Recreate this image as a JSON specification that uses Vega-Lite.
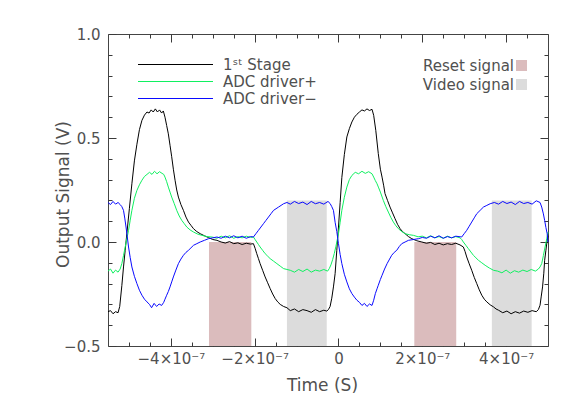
{
  "$schema": "https://vega.github.io/schema/vega-lite/v6.json",
  "width": 440,
  "height": 312,
  "autosize": {"type": "none"},
  "padding": {"left": 108, "top": 34, "right": 33, "bottom": 69},
  "background": "white",
  "config": {
    "view": {"stroke": "#444444", "strokeWidth": 1},
    "font": "DejaVu Sans",
    "axis": {
      "zindex": 1,
      "domain": false,
      "tickColor": "#3a3a3a",
      "tickWidth": 1,
      "labelColor": "#505050",
      "titleColor": "#505050",
      "labelFont": "DejaVu Sans",
      "titleFont": "DejaVu Sans",
      "labelFontSize": 15,
      "titleFontSize": 17,
      "titleFontWeight": "normal",
      "grid": false
    },
    "legend": {
      "labelFont": "DejaVu Sans",
      "labelFontSize": 15,
      "labelColor": "#505050",
      "padding": 0,
      "title": null
    }
  },
  "datasets": {
    "bands": [
      {"t0": -3.09e-7, "t1": -2.08e-7, "v0": -0.5, "v1": 0.0, "band": "Reset signal"},
      {"t0": 1.81e-7, "t1": 2.81e-7, "v0": -0.5, "v1": 0.0, "band": "Reset signal"},
      {"t0": -1.23e-7, "t1": -0.28e-7, "v0": -0.5, "v1": 0.2, "band": "Video signal"},
      {"t0": 3.66e-7, "t1": 4.61e-7, "v0": -0.5, "v1": 0.2, "band": "Video signal"}
    ],
    "signals": [
      {"series": "1ˢᵗ Stage", "t": -5.50e-7, "v": -0.335},
      {"series": "1ˢᵗ Stage", "t": -5.44e-7, "v": -0.33},
      {"series": "1ˢᵗ Stage", "t": -5.38e-7, "v": -0.345},
      {"series": "1ˢᵗ Stage", "t": -5.32e-7, "v": -0.335},
      {"series": "1ˢᵗ Stage", "t": -5.26e-7, "v": -0.34},
      {"series": "1ˢᵗ Stage", "t": -5.22e-7, "v": -0.31},
      {"series": "1ˢᵗ Stage", "t": -5.17e-7, "v": -0.21},
      {"series": "1ˢᵗ Stage", "t": -5.13e-7, "v": -0.12},
      {"series": "1ˢᵗ Stage", "t": -5.09e-7, "v": -0.04},
      {"series": "1ˢᵗ Stage", "t": -5.05e-7, "v": 0.04},
      {"series": "1ˢᵗ Stage", "t": -4.99e-7, "v": 0.16},
      {"series": "1ˢᵗ Stage", "t": -4.93e-7, "v": 0.28},
      {"series": "1ˢᵗ Stage", "t": -4.87e-7, "v": 0.39},
      {"series": "1ˢᵗ Stage", "t": -4.81e-7, "v": 0.47},
      {"series": "1ˢᵗ Stage", "t": -4.75e-7, "v": 0.54},
      {"series": "1ˢᵗ Stage", "t": -4.69e-7, "v": 0.585},
      {"series": "1ˢᵗ Stage", "t": -4.63e-7, "v": 0.61},
      {"series": "1ˢᵗ Stage", "t": -4.57e-7, "v": 0.625},
      {"series": "1ˢᵗ Stage", "t": -4.52e-7, "v": 0.62},
      {"series": "1ˢᵗ Stage", "t": -4.47e-7, "v": 0.635},
      {"series": "1ˢᵗ Stage", "t": -4.42e-7, "v": 0.625},
      {"series": "1ˢᵗ Stage", "t": -4.37e-7, "v": 0.64},
      {"series": "1ˢᵗ Stage", "t": -4.32e-7, "v": 0.625},
      {"series": "1ˢᵗ Stage", "t": -4.27e-7, "v": 0.635},
      {"series": "1ˢᵗ Stage", "t": -4.22e-7, "v": 0.62},
      {"series": "1ˢᵗ Stage", "t": -4.18e-7, "v": 0.63},
      {"series": "1ˢᵗ Stage", "t": -4.14e-7, "v": 0.60},
      {"series": "1ˢᵗ Stage", "t": -4.10e-7, "v": 0.56},
      {"series": "1ˢᵗ Stage", "t": -4.06e-7, "v": 0.52},
      {"series": "1ˢᵗ Stage", "t": -4.02e-7, "v": 0.465},
      {"series": "1ˢᵗ Stage", "t": -3.98e-7, "v": 0.41},
      {"series": "1ˢᵗ Stage", "t": -3.94e-7, "v": 0.35},
      {"series": "1ˢᵗ Stage", "t": -3.90e-7, "v": 0.297},
      {"series": "1ˢᵗ Stage", "t": -3.86e-7, "v": 0.25},
      {"series": "1ˢᵗ Stage", "t": -3.82e-7, "v": 0.216},
      {"series": "1ˢᵗ Stage", "t": -3.76e-7, "v": 0.18},
      {"series": "1ˢᵗ Stage", "t": -3.70e-7, "v": 0.152},
      {"series": "1ˢᵗ Stage", "t": -3.64e-7, "v": 0.12},
      {"series": "1ˢᵗ Stage", "t": -3.58e-7, "v": 0.096},
      {"series": "1ˢᵗ Stage", "t": -3.52e-7, "v": 0.08},
      {"series": "1ˢᵗ Stage", "t": -3.46e-7, "v": 0.064},
      {"series": "1ˢᵗ Stage", "t": -3.38e-7, "v": 0.05},
      {"series": "1ˢᵗ Stage", "t": -3.30e-7, "v": 0.04},
      {"series": "1ˢᵗ Stage", "t": -3.20e-7, "v": 0.03},
      {"series": "1ˢᵗ Stage", "t": -3.10e-7, "v": 0.021},
      {"series": "1ˢᵗ Stage", "t": -3.00e-7, "v": 0.012},
      {"series": "1ˢᵗ Stage", "t": -2.90e-7, "v": 0.008},
      {"series": "1ˢᵗ Stage", "t": -2.80e-7, "v": 0.0},
      {"series": "1ˢᵗ Stage", "t": -2.70e-7, "v": -0.005},
      {"series": "1ˢᵗ Stage", "t": -2.60e-7, "v": 0.002},
      {"series": "1ˢᵗ Stage", "t": -2.50e-7, "v": -0.008},
      {"series": "1ˢᵗ Stage", "t": -2.40e-7, "v": -0.004},
      {"series": "1ˢᵗ Stage", "t": -2.30e-7, "v": -0.012},
      {"series": "1ˢᵗ Stage", "t": -2.20e-7, "v": -0.006},
      {"series": "1ˢᵗ Stage", "t": -2.10e-7, "v": -0.01},
      {"series": "1ˢᵗ Stage", "t": -2.03e-7, "v": -0.008},
      {"series": "1ˢᵗ Stage", "t": -1.99e-7, "v": -0.03},
      {"series": "1ˢᵗ Stage", "t": -1.95e-7, "v": -0.056},
      {"series": "1ˢᵗ Stage", "t": -1.91e-7, "v": -0.08},
      {"series": "1ˢᵗ Stage", "t": -1.87e-7, "v": -0.104},
      {"series": "1ˢᵗ Stage", "t": -1.81e-7, "v": -0.136},
      {"series": "1ˢᵗ Stage", "t": -1.75e-7, "v": -0.168},
      {"series": "1ˢᵗ Stage", "t": -1.69e-7, "v": -0.196},
      {"series": "1ˢᵗ Stage", "t": -1.63e-7, "v": -0.224},
      {"series": "1ˢᵗ Stage", "t": -1.57e-7, "v": -0.25},
      {"series": "1ˢᵗ Stage", "t": -1.51e-7, "v": -0.272},
      {"series": "1ˢᵗ Stage", "t": -1.45e-7, "v": -0.288},
      {"series": "1ˢᵗ Stage", "t": -1.39e-7, "v": -0.30},
      {"series": "1ˢᵗ Stage", "t": -1.31e-7, "v": -0.31},
      {"series": "1ˢᵗ Stage", "t": -1.23e-7, "v": -0.316},
      {"series": "1ˢᵗ Stage", "t": -1.15e-7, "v": -0.33},
      {"series": "1ˢᵗ Stage", "t": -1.05e-7, "v": -0.322},
      {"series": "1ˢᵗ Stage", "t": -0.95e-7, "v": -0.335},
      {"series": "1ˢᵗ Stage", "t": -0.85e-7, "v": -0.325},
      {"series": "1ˢᵗ Stage", "t": -0.75e-7, "v": -0.33},
      {"series": "1ˢᵗ Stage", "t": -0.65e-7, "v": -0.338},
      {"series": "1ˢᵗ Stage", "t": -0.55e-7, "v": -0.325},
      {"series": "1ˢᵗ Stage", "t": -0.45e-7, "v": -0.335},
      {"series": "1ˢᵗ Stage", "t": -0.35e-7, "v": -0.328},
      {"series": "1ˢᵗ Stage", "t": -0.28e-7, "v": -0.332},
      {"series": "1ˢᵗ Stage", "t": -0.24e-7, "v": -0.325},
      {"series": "1ˢᵗ Stage", "t": -0.20e-7, "v": -0.31},
      {"series": "1ˢᵗ Stage", "t": -0.16e-7, "v": -0.27},
      {"series": "1ˢᵗ Stage", "t": -0.12e-7, "v": -0.216},
      {"series": "1ˢᵗ Stage", "t": -0.08e-7, "v": -0.152},
      {"series": "1ˢᵗ Stage", "t": -0.04e-7, "v": -0.04},
      {"series": "1ˢᵗ Stage", "t": 0, "v": 0.072},
      {"series": "1ˢᵗ Stage", "t": 0.04e-7, "v": 0.19},
      {"series": "1ˢᵗ Stage", "t": 0.08e-7, "v": 0.31},
      {"series": "1ˢᵗ Stage", "t": 0.14e-7, "v": 0.42},
      {"series": "1ˢᵗ Stage", "t": 0.20e-7, "v": 0.505},
      {"series": "1ˢᵗ Stage", "t": 0.26e-7, "v": 0.545},
      {"series": "1ˢᵗ Stage", "t": 0.32e-7, "v": 0.577},
      {"series": "1ˢᵗ Stage", "t": 0.38e-7, "v": 0.60},
      {"series": "1ˢᵗ Stage", "t": 0.44e-7, "v": 0.614},
      {"series": "1ˢᵗ Stage", "t": 0.50e-7, "v": 0.625},
      {"series": "1ˢᵗ Stage", "t": 0.56e-7, "v": 0.635},
      {"series": "1ˢᵗ Stage", "t": 0.62e-7, "v": 0.63},
      {"series": "1ˢᵗ Stage", "t": 0.68e-7, "v": 0.64},
      {"series": "1ˢᵗ Stage", "t": 0.74e-7, "v": 0.632},
      {"series": "1ˢᵗ Stage", "t": 0.80e-7, "v": 0.638},
      {"series": "1ˢᵗ Stage", "t": 0.84e-7, "v": 0.609},
      {"series": "1ˢᵗ Stage", "t": 0.89e-7, "v": 0.537},
      {"series": "1ˢᵗ Stage", "t": 0.95e-7, "v": 0.425},
      {"series": "1ˢᵗ Stage", "t": 1.00e-7, "v": 0.35},
      {"series": "1ˢᵗ Stage", "t": 1.04e-7, "v": 0.312},
      {"series": "1ˢᵗ Stage", "t": 1.08e-7, "v": 0.27},
      {"series": "1ˢᵗ Stage", "t": 1.11e-7, "v": 0.233},
      {"series": "1ˢᵗ Stage", "t": 1.17e-7, "v": 0.20},
      {"series": "1ˢᵗ Stage", "t": 1.23e-7, "v": 0.168},
      {"series": "1ˢᵗ Stage", "t": 1.29e-7, "v": 0.14},
      {"series": "1ˢᵗ Stage", "t": 1.35e-7, "v": 0.112},
      {"series": "1ˢᵗ Stage", "t": 1.41e-7, "v": 0.085},
      {"series": "1ˢᵗ Stage", "t": 1.47e-7, "v": 0.064},
      {"series": "1ˢᵗ Stage", "t": 1.53e-7, "v": 0.05},
      {"series": "1ˢᵗ Stage", "t": 1.59e-7, "v": 0.04},
      {"series": "1ˢᵗ Stage", "t": 1.67e-7, "v": 0.026},
      {"series": "1ˢᵗ Stage", "t": 1.75e-7, "v": 0.016},
      {"series": "1ˢᵗ Stage", "t": 1.87e-7, "v": 0.006},
      {"series": "1ˢᵗ Stage", "t": 1.99e-7, "v": 0.0},
      {"series": "1ˢᵗ Stage", "t": 2.10e-7, "v": -0.006},
      {"series": "1ˢᵗ Stage", "t": 2.20e-7, "v": -0.002},
      {"series": "1ˢᵗ Stage", "t": 2.30e-7, "v": -0.012},
      {"series": "1ˢᵗ Stage", "t": 2.40e-7, "v": -0.006},
      {"series": "1ˢᵗ Stage", "t": 2.50e-7, "v": -0.014},
      {"series": "1ˢᵗ Stage", "t": 2.60e-7, "v": -0.008},
      {"series": "1ˢᵗ Stage", "t": 2.70e-7, "v": -0.012},
      {"series": "1ˢᵗ Stage", "t": 2.80e-7, "v": -0.006},
      {"series": "1ˢᵗ Stage", "t": 2.90e-7, "v": -0.014},
      {"series": "1ˢᵗ Stage", "t": 2.98e-7, "v": -0.024},
      {"series": "1ˢᵗ Stage", "t": 3.02e-7, "v": -0.045},
      {"series": "1ˢᵗ Stage", "t": 3.06e-7, "v": -0.072},
      {"series": "1ˢᵗ Stage", "t": 3.12e-7, "v": -0.105},
      {"series": "1ˢᵗ Stage", "t": 3.18e-7, "v": -0.136},
      {"series": "1ˢᵗ Stage", "t": 3.24e-7, "v": -0.17},
      {"series": "1ˢᵗ Stage", "t": 3.30e-7, "v": -0.20},
      {"series": "1ˢᵗ Stage", "t": 3.36e-7, "v": -0.23},
      {"series": "1ˢᵗ Stage", "t": 3.42e-7, "v": -0.256},
      {"series": "1ˢᵗ Stage", "t": 3.48e-7, "v": -0.275},
      {"series": "1ˢᵗ Stage", "t": 3.54e-7, "v": -0.288},
      {"series": "1ˢᵗ Stage", "t": 3.62e-7, "v": -0.302},
      {"series": "1ˢᵗ Stage", "t": 3.70e-7, "v": -0.312},
      {"series": "1ˢᵗ Stage", "t": 3.76e-7, "v": -0.322},
      {"series": "1ˢᵗ Stage", "t": 3.82e-7, "v": -0.328},
      {"series": "1ˢᵗ Stage", "t": 3.92e-7, "v": -0.34},
      {"series": "1ˢᵗ Stage", "t": 4.02e-7, "v": -0.332},
      {"series": "1ˢᵗ Stage", "t": 4.12e-7, "v": -0.345},
      {"series": "1ˢᵗ Stage", "t": 4.22e-7, "v": -0.335},
      {"series": "1ˢᵗ Stage", "t": 4.32e-7, "v": -0.342},
      {"series": "1ˢᵗ Stage", "t": 4.42e-7, "v": -0.332},
      {"series": "1ˢᵗ Stage", "t": 4.52e-7, "v": -0.338},
      {"series": "1ˢᵗ Stage", "t": 4.62e-7, "v": -0.33},
      {"series": "1ˢᵗ Stage", "t": 4.72e-7, "v": -0.335},
      {"series": "1ˢᵗ Stage", "t": 4.77e-7, "v": -0.325},
      {"series": "1ˢᵗ Stage", "t": 4.81e-7, "v": -0.304},
      {"series": "1ˢᵗ Stage", "t": 4.84e-7, "v": -0.26},
      {"series": "1ˢᵗ Stage", "t": 4.87e-7, "v": -0.216},
      {"series": "1ˢᵗ Stage", "t": 4.90e-7, "v": -0.15},
      {"series": "1ˢᵗ Stage", "t": 4.92e-7, "v": -0.088},
      {"series": "1ˢᵗ Stage", "t": 4.95e-7, "v": -0.04},
      {"series": "1ˢᵗ Stage", "t": 4.98e-7, "v": 0.008},
      {"series": "1ˢᵗ Stage", "t": 5.00e-7, "v": 0.03},

      {"series": "ADC driver+", "t": -5.50e-7, "v": -0.14},
      {"series": "ADC driver+", "t": -5.44e-7, "v": -0.13},
      {"series": "ADC driver+", "t": -5.38e-7, "v": -0.15},
      {"series": "ADC driver+", "t": -5.32e-7, "v": -0.135},
      {"series": "ADC driver+", "t": -5.26e-7, "v": -0.145},
      {"series": "ADC driver+", "t": -5.21e-7, "v": -0.13},
      {"series": "ADC driver+", "t": -5.17e-7, "v": -0.104},
      {"series": "ADC driver+", "t": -5.13e-7, "v": -0.065},
      {"series": "ADC driver+", "t": -5.09e-7, "v": -0.024},
      {"series": "ADC driver+", "t": -5.05e-7, "v": 0.015},
      {"series": "ADC driver+", "t": -5.01e-7, "v": 0.056},
      {"series": "ADC driver+", "t": -4.97e-7, "v": 0.105},
      {"series": "ADC driver+", "t": -4.93e-7, "v": 0.152},
      {"series": "ADC driver+", "t": -4.87e-7, "v": 0.21},
      {"series": "ADC driver+", "t": -4.81e-7, "v": 0.248},
      {"series": "ADC driver+", "t": -4.75e-7, "v": 0.275},
      {"series": "ADC driver+", "t": -4.69e-7, "v": 0.297},
      {"series": "ADC driver+", "t": -4.63e-7, "v": 0.315},
      {"series": "ADC driver+", "t": -4.57e-7, "v": 0.325},
      {"series": "ADC driver+", "t": -4.51e-7, "v": 0.335},
      {"series": "ADC driver+", "t": -4.45e-7, "v": 0.325},
      {"series": "ADC driver+", "t": -4.39e-7, "v": 0.34},
      {"series": "ADC driver+", "t": -4.33e-7, "v": 0.328},
      {"series": "ADC driver+", "t": -4.27e-7, "v": 0.338},
      {"series": "ADC driver+", "t": -4.21e-7, "v": 0.33},
      {"series": "ADC driver+", "t": -4.17e-7, "v": 0.325},
      {"series": "ADC driver+", "t": -4.14e-7, "v": 0.312},
      {"series": "ADC driver+", "t": -4.10e-7, "v": 0.29},
      {"series": "ADC driver+", "t": -4.06e-7, "v": 0.264},
      {"series": "ADC driver+", "t": -4.02e-7, "v": 0.24},
      {"series": "ADC driver+", "t": -3.98e-7, "v": 0.216},
      {"series": "ADC driver+", "t": -3.92e-7, "v": 0.185},
      {"series": "ADC driver+", "t": -3.86e-7, "v": 0.152},
      {"series": "ADC driver+", "t": -3.80e-7, "v": 0.125},
      {"series": "ADC driver+", "t": -3.74e-7, "v": 0.104},
      {"series": "ADC driver+", "t": -3.68e-7, "v": 0.088},
      {"series": "ADC driver+", "t": -3.62e-7, "v": 0.072},
      {"series": "ADC driver+", "t": -3.54e-7, "v": 0.058},
      {"series": "ADC driver+", "t": -3.46e-7, "v": 0.048},
      {"series": "ADC driver+", "t": -3.36e-7, "v": 0.038},
      {"series": "ADC driver+", "t": -3.26e-7, "v": 0.032},
      {"series": "ADC driver+", "t": -3.14e-7, "v": 0.026},
      {"series": "ADC driver+", "t": -3.02e-7, "v": 0.024},
      {"series": "ADC driver+", "t": -2.90e-7, "v": 0.018},
      {"series": "ADC driver+", "t": -2.80e-7, "v": 0.028},
      {"series": "ADC driver+", "t": -2.70e-7, "v": 0.02},
      {"series": "ADC driver+", "t": -2.60e-7, "v": 0.03},
      {"series": "ADC driver+", "t": -2.50e-7, "v": 0.018},
      {"series": "ADC driver+", "t": -2.40e-7, "v": 0.026},
      {"series": "ADC driver+", "t": -2.30e-7, "v": 0.02},
      {"series": "ADC driver+", "t": -2.20e-7, "v": 0.028},
      {"series": "ADC driver+", "t": -2.10e-7, "v": 0.022},
      {"series": "ADC driver+", "t": -2.03e-7, "v": 0.024},
      {"series": "ADC driver+", "t": -1.99e-7, "v": 0.012},
      {"series": "ADC driver+", "t": -1.95e-7, "v": 0.0},
      {"series": "ADC driver+", "t": -1.91e-7, "v": -0.012},
      {"series": "ADC driver+", "t": -1.87e-7, "v": -0.024},
      {"series": "ADC driver+", "t": -1.81e-7, "v": -0.04},
      {"series": "ADC driver+", "t": -1.75e-7, "v": -0.056},
      {"series": "ADC driver+", "t": -1.69e-7, "v": -0.068},
      {"series": "ADC driver+", "t": -1.63e-7, "v": -0.08},
      {"series": "ADC driver+", "t": -1.55e-7, "v": -0.092},
      {"series": "ADC driver+", "t": -1.47e-7, "v": -0.104},
      {"series": "ADC driver+", "t": -1.39e-7, "v": -0.116},
      {"series": "ADC driver+", "t": -1.31e-7, "v": -0.128},
      {"series": "ADC driver+", "t": -1.23e-7, "v": -0.132},
      {"series": "ADC driver+", "t": -1.15e-7, "v": -0.136},
      {"series": "ADC driver+", "t": -1.05e-7, "v": -0.145},
      {"series": "ADC driver+", "t": -0.95e-7, "v": -0.132},
      {"series": "ADC driver+", "t": -0.85e-7, "v": -0.142},
      {"series": "ADC driver+", "t": -0.75e-7, "v": -0.13},
      {"series": "ADC driver+", "t": -0.65e-7, "v": -0.145},
      {"series": "ADC driver+", "t": -0.55e-7, "v": -0.135},
      {"series": "ADC driver+", "t": -0.45e-7, "v": -0.14},
      {"series": "ADC driver+", "t": -0.35e-7, "v": -0.132},
      {"series": "ADC driver+", "t": -0.26e-7, "v": -0.14},
      {"series": "ADC driver+", "t": -0.22e-7, "v": -0.128},
      {"series": "ADC driver+", "t": -0.18e-7, "v": -0.11},
      {"series": "ADC driver+", "t": -0.14e-7, "v": -0.085},
      {"series": "ADC driver+", "t": -0.10e-7, "v": -0.055},
      {"series": "ADC driver+", "t": -0.06e-7, "v": -0.02},
      {"series": "ADC driver+", "t": 0, "v": 0.04},
      {"series": "ADC driver+", "t": 0.04e-7, "v": 0.095},
      {"series": "ADC driver+", "t": 0.08e-7, "v": 0.152},
      {"series": "ADC driver+", "t": 0.14e-7, "v": 0.215},
      {"series": "ADC driver+", "t": 0.20e-7, "v": 0.264},
      {"series": "ADC driver+", "t": 0.26e-7, "v": 0.30},
      {"series": "ADC driver+", "t": 0.32e-7, "v": 0.32},
      {"series": "ADC driver+", "t": 0.40e-7, "v": 0.335},
      {"series": "ADC driver+", "t": 0.48e-7, "v": 0.328},
      {"series": "ADC driver+", "t": 0.56e-7, "v": 0.34},
      {"series": "ADC driver+", "t": 0.64e-7, "v": 0.33},
      {"series": "ADC driver+", "t": 0.72e-7, "v": 0.338},
      {"series": "ADC driver+", "t": 0.80e-7, "v": 0.328},
      {"series": "ADC driver+", "t": 0.84e-7, "v": 0.312},
      {"series": "ADC driver+", "t": 0.88e-7, "v": 0.295},
      {"series": "ADC driver+", "t": 0.92e-7, "v": 0.28},
      {"series": "ADC driver+", "t": 0.96e-7, "v": 0.26},
      {"series": "ADC driver+", "t": 1.00e-7, "v": 0.24},
      {"series": "ADC driver+", "t": 1.07e-7, "v": 0.20},
      {"series": "ADC driver+", "t": 1.13e-7, "v": 0.17},
      {"series": "ADC driver+", "t": 1.19e-7, "v": 0.144},
      {"series": "ADC driver+", "t": 1.25e-7, "v": 0.118},
      {"series": "ADC driver+", "t": 1.31e-7, "v": 0.096},
      {"series": "ADC driver+", "t": 1.37e-7, "v": 0.078},
      {"series": "ADC driver+", "t": 1.43e-7, "v": 0.064},
      {"series": "ADC driver+", "t": 1.51e-7, "v": 0.05},
      {"series": "ADC driver+", "t": 1.59e-7, "v": 0.04},
      {"series": "ADC driver+", "t": 1.69e-7, "v": 0.035},
      {"series": "ADC driver+", "t": 1.79e-7, "v": 0.032},
      {"series": "ADC driver+", "t": 1.90e-7, "v": 0.025},
      {"series": "ADC driver+", "t": 2.00e-7, "v": 0.028},
      {"series": "ADC driver+", "t": 2.10e-7, "v": 0.02},
      {"series": "ADC driver+", "t": 2.20e-7, "v": 0.03},
      {"series": "ADC driver+", "t": 2.30e-7, "v": 0.02},
      {"series": "ADC driver+", "t": 2.40e-7, "v": 0.026},
      {"series": "ADC driver+", "t": 2.50e-7, "v": 0.018},
      {"series": "ADC driver+", "t": 2.60e-7, "v": 0.028},
      {"series": "ADC driver+", "t": 2.70e-7, "v": 0.02},
      {"series": "ADC driver+", "t": 2.80e-7, "v": 0.026},
      {"series": "ADC driver+", "t": 2.90e-7, "v": 0.02},
      {"series": "ADC driver+", "t": 2.94e-7, "v": 0.012},
      {"series": "ADC driver+", "t": 2.98e-7, "v": 0.0},
      {"series": "ADC driver+", "t": 3.04e-7, "v": -0.016},
      {"series": "ADC driver+", "t": 3.10e-7, "v": -0.032},
      {"series": "ADC driver+", "t": 3.16e-7, "v": -0.048},
      {"series": "ADC driver+", "t": 3.22e-7, "v": -0.064},
      {"series": "ADC driver+", "t": 3.28e-7, "v": -0.076},
      {"series": "ADC driver+", "t": 3.34e-7, "v": -0.088},
      {"series": "ADC driver+", "t": 3.42e-7, "v": -0.1},
      {"series": "ADC driver+", "t": 3.50e-7, "v": -0.112},
      {"series": "ADC driver+", "t": 3.60e-7, "v": -0.125},
      {"series": "ADC driver+", "t": 3.70e-7, "v": -0.136},
      {"series": "ADC driver+", "t": 3.80e-7, "v": -0.14},
      {"series": "ADC driver+", "t": 3.90e-7, "v": -0.148},
      {"series": "ADC driver+", "t": 4.00e-7, "v": -0.135},
      {"series": "ADC driver+", "t": 4.10e-7, "v": -0.15},
      {"series": "ADC driver+", "t": 4.20e-7, "v": -0.138},
      {"series": "ADC driver+", "t": 4.30e-7, "v": -0.145},
      {"series": "ADC driver+", "t": 4.40e-7, "v": -0.135},
      {"series": "ADC driver+", "t": 4.50e-7, "v": -0.142},
      {"series": "ADC driver+", "t": 4.60e-7, "v": -0.132},
      {"series": "ADC driver+", "t": 4.70e-7, "v": -0.14},
      {"series": "ADC driver+", "t": 4.77e-7, "v": -0.13},
      {"series": "ADC driver+", "t": 4.81e-7, "v": -0.12},
      {"series": "ADC driver+", "t": 4.85e-7, "v": -0.104},
      {"series": "ADC driver+", "t": 4.89e-7, "v": -0.065},
      {"series": "ADC driver+", "t": 4.93e-7, "v": -0.024},
      {"series": "ADC driver+", "t": 4.97e-7, "v": 0.015},
      {"series": "ADC driver+", "t": 5.00e-7, "v": 0.048},

      {"series": "ADC driver−", "t": -5.50e-7, "v": 0.19},
      {"series": "ADC driver−", "t": -5.44e-7, "v": 0.18},
      {"series": "ADC driver−", "t": -5.38e-7, "v": 0.195},
      {"series": "ADC driver−", "t": -5.32e-7, "v": 0.182},
      {"series": "ADC driver−", "t": -5.26e-7, "v": 0.19},
      {"series": "ADC driver−", "t": -5.21e-7, "v": 0.18},
      {"series": "ADC driver−", "t": -5.17e-7, "v": 0.17},
      {"series": "ADC driver−", "t": -5.13e-7, "v": 0.152},
      {"series": "ADC driver−", "t": -5.10e-7, "v": 0.115},
      {"series": "ADC driver−", "t": -5.07e-7, "v": 0.072},
      {"series": "ADC driver−", "t": -5.04e-7, "v": 0.025},
      {"series": "ADC driver−", "t": -5.01e-7, "v": -0.024},
      {"series": "ADC driver−", "t": -4.97e-7, "v": -0.075},
      {"series": "ADC driver−", "t": -4.93e-7, "v": -0.12},
      {"series": "ADC driver−", "t": -4.87e-7, "v": -0.165},
      {"series": "ADC driver−", "t": -4.81e-7, "v": -0.2},
      {"series": "ADC driver−", "t": -4.75e-7, "v": -0.232},
      {"series": "ADC driver−", "t": -4.69e-7, "v": -0.256},
      {"series": "ADC driver−", "t": -4.63e-7, "v": -0.275},
      {"series": "ADC driver−", "t": -4.57e-7, "v": -0.288},
      {"series": "ADC driver−", "t": -4.51e-7, "v": -0.30},
      {"series": "ADC driver−", "t": -4.46e-7, "v": -0.316},
      {"series": "ADC driver−", "t": -4.40e-7, "v": -0.295},
      {"series": "ADC driver−", "t": -4.34e-7, "v": -0.31},
      {"series": "ADC driver−", "t": -4.28e-7, "v": -0.298},
      {"series": "ADC driver−", "t": -4.22e-7, "v": -0.305},
      {"series": "ADC driver−", "t": -4.17e-7, "v": -0.29},
      {"series": "ADC driver−", "t": -4.14e-7, "v": -0.275},
      {"series": "ADC driver−", "t": -4.10e-7, "v": -0.256},
      {"series": "ADC driver−", "t": -4.06e-7, "v": -0.238},
      {"series": "ADC driver−", "t": -4.02e-7, "v": -0.216},
      {"series": "ADC driver−", "t": -3.98e-7, "v": -0.192},
      {"series": "ADC driver−", "t": -3.94e-7, "v": -0.168},
      {"series": "ADC driver−", "t": -3.88e-7, "v": -0.135},
      {"series": "ADC driver−", "t": -3.82e-7, "v": -0.104},
      {"series": "ADC driver−", "t": -3.76e-7, "v": -0.082},
      {"series": "ADC driver−", "t": -3.70e-7, "v": -0.064},
      {"series": "ADC driver−", "t": -3.64e-7, "v": -0.05},
      {"series": "ADC driver−", "t": -3.58e-7, "v": -0.04},
      {"series": "ADC driver−", "t": -3.52e-7, "v": -0.028},
      {"series": "ADC driver−", "t": -3.46e-7, "v": -0.016},
      {"series": "ADC driver−", "t": -3.38e-7, "v": -0.008},
      {"series": "ADC driver−", "t": -3.30e-7, "v": 0.0},
      {"series": "ADC driver−", "t": -3.20e-7, "v": 0.008},
      {"series": "ADC driver−", "t": -3.10e-7, "v": 0.016},
      {"series": "ADC driver−", "t": -3.00e-7, "v": 0.02},
      {"series": "ADC driver−", "t": -2.90e-7, "v": 0.024},
      {"series": "ADC driver−", "t": -2.80e-7, "v": 0.018},
      {"series": "ADC driver−", "t": -2.70e-7, "v": 0.028},
      {"series": "ADC driver−", "t": -2.60e-7, "v": 0.02},
      {"series": "ADC driver−", "t": -2.50e-7, "v": 0.03},
      {"series": "ADC driver−", "t": -2.40e-7, "v": 0.02},
      {"series": "ADC driver−", "t": -2.30e-7, "v": 0.028},
      {"series": "ADC driver−", "t": -2.20e-7, "v": 0.018},
      {"series": "ADC driver−", "t": -2.10e-7, "v": 0.026},
      {"series": "ADC driver−", "t": -2.03e-7, "v": 0.024},
      {"series": "ADC driver−", "t": -1.97e-7, "v": 0.04},
      {"series": "ADC driver−", "t": -1.91e-7, "v": 0.056},
      {"series": "ADC driver−", "t": -1.85e-7, "v": 0.072},
      {"series": "ADC driver−", "t": -1.79e-7, "v": 0.088},
      {"series": "ADC driver−", "t": -1.73e-7, "v": 0.104},
      {"series": "ADC driver−", "t": -1.67e-7, "v": 0.12},
      {"series": "ADC driver−", "t": -1.61e-7, "v": 0.136},
      {"series": "ADC driver−", "t": -1.55e-7, "v": 0.152},
      {"series": "ADC driver−", "t": -1.49e-7, "v": 0.16},
      {"series": "ADC driver−", "t": -1.43e-7, "v": 0.168},
      {"series": "ADC driver−", "t": -1.37e-7, "v": 0.176},
      {"series": "ADC driver−", "t": -1.31e-7, "v": 0.184},
      {"series": "ADC driver−", "t": -1.23e-7, "v": 0.19},
      {"series": "ADC driver−", "t": -1.15e-7, "v": 0.182},
      {"series": "ADC driver−", "t": -1.05e-7, "v": 0.195},
      {"series": "ADC driver−", "t": -0.95e-7, "v": 0.185},
      {"series": "ADC driver−", "t": -0.85e-7, "v": 0.192},
      {"series": "ADC driver−", "t": -0.75e-7, "v": 0.18},
      {"series": "ADC driver−", "t": -0.65e-7, "v": 0.195},
      {"series": "ADC driver−", "t": -0.55e-7, "v": 0.184},
      {"series": "ADC driver−", "t": -0.45e-7, "v": 0.19},
      {"series": "ADC driver−", "t": -0.35e-7, "v": 0.182},
      {"series": "ADC driver−", "t": -0.25e-7, "v": 0.195},
      {"series": "ADC driver−", "t": -0.20e-7, "v": 0.185},
      {"series": "ADC driver−", "t": -0.16e-7, "v": 0.17},
      {"series": "ADC driver−", "t": -0.12e-7, "v": 0.152},
      {"series": "ADC driver−", "t": -0.08e-7, "v": 0.095},
      {"series": "ADC driver−", "t": -0.04e-7, "v": 0.05},
      {"series": "ADC driver−", "t": 0, "v": -0.008},
      {"series": "ADC driver−", "t": 0.04e-7, "v": -0.06},
      {"series": "ADC driver−", "t": 0.08e-7, "v": -0.104},
      {"series": "ADC driver−", "t": 0.14e-7, "v": -0.155},
      {"series": "ADC driver−", "t": 0.20e-7, "v": -0.192},
      {"series": "ADC driver−", "t": 0.26e-7, "v": -0.225},
      {"series": "ADC driver−", "t": 0.32e-7, "v": -0.248},
      {"series": "ADC driver−", "t": 0.38e-7, "v": -0.265},
      {"series": "ADC driver−", "t": 0.44e-7, "v": -0.28},
      {"series": "ADC driver−", "t": 0.50e-7, "v": -0.29},
      {"series": "ADC driver−", "t": 0.56e-7, "v": -0.305},
      {"series": "ADC driver−", "t": 0.62e-7, "v": -0.295},
      {"series": "ADC driver−", "t": 0.68e-7, "v": -0.31},
      {"series": "ADC driver−", "t": 0.74e-7, "v": -0.298},
      {"series": "ADC driver−", "t": 0.80e-7, "v": -0.305},
      {"series": "ADC driver−", "t": 0.84e-7, "v": -0.28},
      {"series": "ADC driver−", "t": 0.88e-7, "v": -0.248},
      {"series": "ADC driver−", "t": 0.92e-7, "v": -0.225},
      {"series": "ADC driver−", "t": 0.95e-7, "v": -0.208},
      {"series": "ADC driver−", "t": 1.00e-7, "v": -0.18},
      {"series": "ADC driver−", "t": 1.04e-7, "v": -0.16},
      {"series": "ADC driver−", "t": 1.10e-7, "v": -0.13},
      {"series": "ADC driver−", "t": 1.16e-7, "v": -0.104},
      {"series": "ADC driver−", "t": 1.22e-7, "v": -0.082},
      {"series": "ADC driver−", "t": 1.27e-7, "v": -0.064},
      {"series": "ADC driver−", "t": 1.33e-7, "v": -0.05},
      {"series": "ADC driver−", "t": 1.39e-7, "v": -0.04},
      {"series": "ADC driver−", "t": 1.45e-7, "v": -0.022},
      {"series": "ADC driver−", "t": 1.51e-7, "v": -0.008},
      {"series": "ADC driver−", "t": 1.59e-7, "v": 0.0},
      {"series": "ADC driver−", "t": 1.67e-7, "v": 0.008},
      {"series": "ADC driver−", "t": 1.79e-7, "v": 0.012},
      {"series": "ADC driver−", "t": 1.91e-7, "v": 0.016},
      {"series": "ADC driver−", "t": 2.00e-7, "v": 0.022},
      {"series": "ADC driver−", "t": 2.10e-7, "v": 0.018},
      {"series": "ADC driver−", "t": 2.20e-7, "v": 0.028},
      {"series": "ADC driver−", "t": 2.30e-7, "v": 0.02},
      {"series": "ADC driver−", "t": 2.40e-7, "v": 0.03},
      {"series": "ADC driver−", "t": 2.50e-7, "v": 0.018},
      {"series": "ADC driver−", "t": 2.60e-7, "v": 0.026},
      {"series": "ADC driver−", "t": 2.70e-7, "v": 0.02},
      {"series": "ADC driver−", "t": 2.80e-7, "v": 0.028},
      {"series": "ADC driver−", "t": 2.94e-7, "v": 0.024},
      {"series": "ADC driver−", "t": 3.00e-7, "v": 0.04},
      {"series": "ADC driver−", "t": 3.06e-7, "v": 0.056},
      {"series": "ADC driver−", "t": 3.12e-7, "v": 0.076},
      {"series": "ADC driver−", "t": 3.18e-7, "v": 0.096},
      {"series": "ADC driver−", "t": 3.24e-7, "v": 0.116},
      {"series": "ADC driver−", "t": 3.30e-7, "v": 0.136},
      {"series": "ADC driver−", "t": 3.38e-7, "v": 0.152},
      {"series": "ADC driver−", "t": 3.46e-7, "v": 0.168},
      {"series": "ADC driver−", "t": 3.54e-7, "v": 0.176},
      {"series": "ADC driver−", "t": 3.62e-7, "v": 0.184},
      {"series": "ADC driver−", "t": 3.72e-7, "v": 0.19},
      {"series": "ADC driver−", "t": 3.82e-7, "v": 0.182},
      {"series": "ADC driver−", "t": 3.92e-7, "v": 0.195},
      {"series": "ADC driver−", "t": 4.02e-7, "v": 0.185},
      {"series": "ADC driver−", "t": 4.12e-7, "v": 0.192},
      {"series": "ADC driver−", "t": 4.22e-7, "v": 0.18},
      {"series": "ADC driver−", "t": 4.32e-7, "v": 0.195},
      {"series": "ADC driver−", "t": 4.42e-7, "v": 0.185},
      {"series": "ADC driver−", "t": 4.52e-7, "v": 0.19},
      {"series": "ADC driver−", "t": 4.62e-7, "v": 0.182},
      {"series": "ADC driver−", "t": 4.72e-7, "v": 0.198},
      {"series": "ADC driver−", "t": 4.81e-7, "v": 0.19},
      {"series": "ADC driver−", "t": 4.85e-7, "v": 0.168},
      {"series": "ADC driver−", "t": 4.89e-7, "v": 0.135},
      {"series": "ADC driver−", "t": 4.92e-7, "v": 0.104},
      {"series": "ADC driver−", "t": 4.95e-7, "v": 0.07},
      {"series": "ADC driver−", "t": 4.98e-7, "v": 0.04},
      {"series": "ADC driver−", "t": 5.00e-7, "v": 0.0}
    ]
  },
  "resolve": {"axis": {"x": "independent", "y": "independent"}},
  "layer": [
    {
      "data": {"name": "bands"},
      "mark": {"type": "rect", "opacity": 1},
      "encoding": {
        "x": {
          "field": "t0", "type": "quantitative",
          "scale": {"domain": [-5.5e-7, 5.0e-7], "nice": false, "zero": false},
          "axis": {
            "orient": "bottom",
            "offset": -8,
            "title": "Time (S)",
            "titleY": 47,
            "titleX": 214,
            "titleBaseline": "middle",
            "values": [-4e-7, -2e-7, 0, 2e-7, 4e-7],
            "labelExpr": "datum.value === 0 ? '0' : (datum.value < 0 ? '−' : '') + abs(round(datum.value*1e7)) + '×10⁻⁷'",
            "tickSize": 8,
            "labelPadding": 12,
            "labelBaseline": "middle"
          }
        },
        "x2": {"field": "t1"},
        "y": {
          "field": "v0", "type": "quantitative",
          "scale": {"domain": [-0.5, 1.0], "nice": false, "zero": false},
          "axis": {
            "orient": "left",
            "offset": -8,
            "title": "Output Signal (V)",
            "titleX": -53,
            "titleY": 160,
            "titleAngle": -90,
            "titleBaseline": "middle",
            "titleAlign": "center",
            "values": [-0.5, 0, 0.5, 1.0],
            "format": ".1f",
            "tickSize": 8,
            "labelPadding": 8
          }
        },
        "y2": {"field": "v1"},
        "fill": {
          "field": "band", "type": "nominal",
          "scale": {"domain": ["Reset signal", "Video signal"], "range": ["#dbbcbd", "#dcdcdc"]},
          "legend": {
            "orient": "none",
            "legendX": 406,
            "legendY": 24,
            "symbolType": "square",
            "symbolSize": 121,
            "symbolOpacity": 1,
            "symbolStrokeWidth": 0,
            "labelAlign": "right",
            "labelOffset": -15,
            "rowPadding": 3
          }
        }
      }
    },
    {
      "data": {"name": "bands"},
      "mark": {"type": "rect", "opacity": 0},
      "encoding": {
        "x": {
          "field": "t0", "type": "quantitative",
          "axis": {
            "orient": "bottom", "offset": -4, "title": null, "labels": false,
            "values": [-5e-7, -4.5e-7, -3.5e-7, -3e-7, -2.5e-7, -1.5e-7, -1e-7, -0.5e-7, 0.5e-7, 1e-7, 1.5e-7, 2.5e-7, 3e-7, 3.5e-7, 4.5e-7],
            "tickSize": 4
          }
        },
        "x2": {"field": "t1"},
        "y": {
          "field": "v0", "type": "quantitative",
          "axis": {
            "orient": "left", "offset": -4, "title": null, "labels": false,
            "values": [-0.4, -0.3, -0.2, -0.1, 0.1, 0.2, 0.3, 0.4, 0.6, 0.7, 0.8, 0.9],
            "tickSize": 4
          }
        },
        "y2": {"field": "v1"}
      }
    },
    {
      "data": {"name": "bands"},
      "mark": {"type": "rect", "opacity": 0},
      "encoding": {
        "x": {
          "field": "t0", "type": "quantitative",
          "axis": {
            "orient": "top", "offset": -4, "title": null, "labels": false,
            "values": [-5e-7, -4.5e-7, -3.5e-7, -3e-7, -2.5e-7, -1.5e-7, -1e-7, -0.5e-7, 0.5e-7, 1e-7, 1.5e-7, 2.5e-7, 3e-7, 3.5e-7, 4.5e-7],
            "tickSize": 4
          }
        },
        "x2": {"field": "t1"},
        "y": {
          "field": "v0", "type": "quantitative",
          "axis": {
            "orient": "right", "offset": -4, "title": null, "labels": false,
            "values": [-0.4, -0.3, -0.2, -0.1, 0.1, 0.2, 0.3, 0.4, 0.6, 0.7, 0.8, 0.9],
            "tickSize": 4
          }
        },
        "y2": {"field": "v1"}
      }
    },
    {
      "data": {"name": "signals"},
      "mark": {"type": "line", "strokeWidth": 1, "interpolate": "linear"},
      "encoding": {
        "x": {
          "field": "t", "type": "quantitative",
          "axis": {
            "orient": "top", "offset": -8,
            "title": null,
            "labels": false,
            "values": [-4e-7, -2e-7, 0, 2e-7, 4e-7],
            "tickSize": 8
          }
        },
        "y": {
          "field": "v", "type": "quantitative",
          "axis": {
            "orient": "right", "offset": -8,
            "title": null,
            "labels": false,
            "values": [-0.5, 0, 0.5, 1.0],
            "tickSize": 8
          }
        },
        "color": {
          "field": "series", "type": "nominal",
          "sort": null,
          "scale": {"domain": ["1ˢᵗ Stage", "ADC driver+", "ADC driver−"], "range": ["#000000", "#10f060", "#0a0aff"]},
          "legend": {
            "orient": "none",
            "legendX": 60,
            "legendY": 23,
            "symbolType": "M-7.5,0H7.5",
            "symbolSize": 100,
            "symbolStrokeWidth": 1,
            "labelOffset": 40,
            "rowPadding": 1
          }
        },
        "order": {"field": "t", "type": "quantitative"}
      }
    }
  ]
}
